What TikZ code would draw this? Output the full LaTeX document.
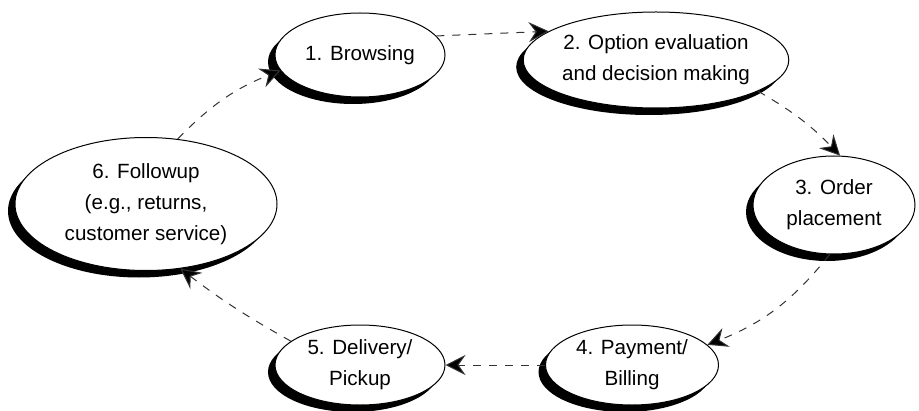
\documentclass[tikz,border=0pt]{standalone}
\usepackage{fontspec}
\setmainfont{Liberation Sans}
\usetikzlibrary{shapes.geometric,shadows,arrows.meta}
\begin{document}
\begin{tikzpicture}[x=0.5pt,y=-0.5pt,
	stage/.style={ellipse, draw, line width=0.5pt, fill=white, inner sep=0pt, align=center,
		font=\fontsize{10.3}{15.5}\selectfont,
		drop shadow={shadow xshift=-3.5pt, shadow yshift=-3.5pt, fill=black, opacity=1}},
	flow/.style={-{Stealth[length=10pt,width=10pt,inset=3.5pt,fill=black]}, dash pattern=on 4pt off 4pt, line width=0.5pt, draw=black!80}]
	\useasboundingbox (0,0) rectangle (919,411);
	\node (S1) at (360,  55)	[stage, minimum width=85pt,    minimum height=42pt]	{1. Browsing};
	\node (S2) at (656,  60)	[stage, minimum width=121.5pt, minimum height=48pt]	{2. Option evaluation\\and decision making};
	\node (S3) at (834, 205)	[stage, minimum width=81pt,    minimum height=49pt]	{3. Order\\placement};
	\node (S4) at (632, 365)	[stage, minimum width=86.5pt,  minimum height=40pt]	{4. Payment/\\Billing};
	\node (S5) at (360, 365)	[stage, minimum width=85pt,    minimum height=40pt]	{5. Delivery/\\Pickup};
	\node (S6) at (146, 204)	[stage, minimum width=131pt,   minimum height=66.5pt]	{6. Followup\\(e.g., returns,\\customer service)};
	\draw[flow] (S1.14) -- (S2.165);
	\draw[flow] (S2.-17) to[bend left=8] (S3.83);
	\draw[flow] (S3.-95) to[bend left=15] (S4.15);
	\draw[flow] (S4.180) -- (S5.0);
	\draw[flow] (S5.161) to[bend left=4] (S6.-62);
	\draw[flow] (S6.64) to[bend left=12] (S1.191);
\end{tikzpicture}
\end{document}
